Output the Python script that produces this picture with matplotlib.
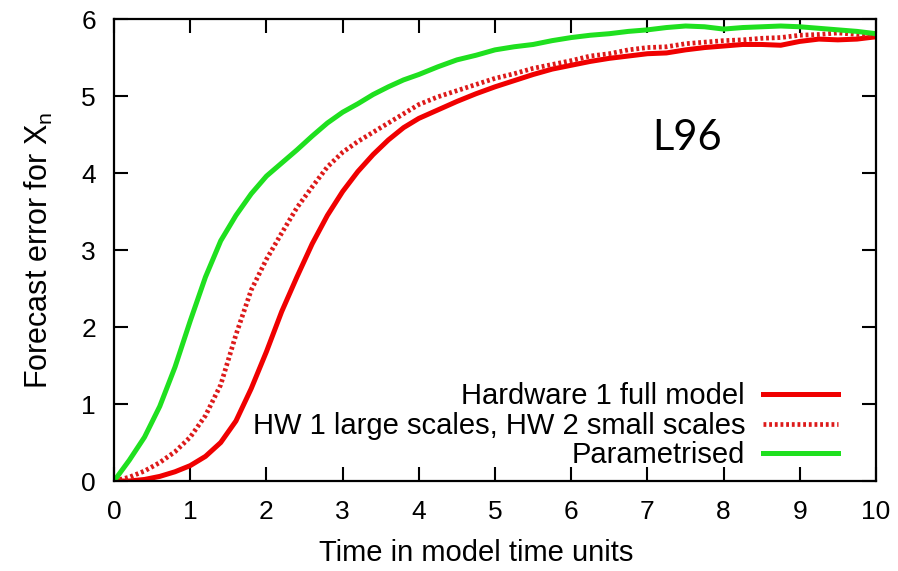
import matplotlib
matplotlib.use('Agg')
import matplotlib.pyplot as plt

# time axis (model time units)
t = [0.0, 0.2, 0.4, 0.6, 0.8, 1.0, 1.2, 1.4, 1.6, 1.8,
     2.0, 2.2, 2.4, 2.6, 2.8, 3.0, 3.2, 3.4, 3.6, 3.8,
     4.0, 4.25, 4.5, 4.75, 5.0, 5.25, 5.5, 5.75, 6.0, 6.25,
     6.5, 6.75, 7.0, 7.25, 7.5, 7.75, 8.0, 8.25, 8.5, 8.75,
     9.0, 9.25, 9.5, 9.75, 10.0]

# forecast error curves
hw1_full = [0.0, 0.0, 0.02, 0.06, 0.12, 0.2, 0.32, 0.5, 0.78, 1.2,
            1.68, 2.2, 2.65, 3.08, 3.45, 3.76, 4.02, 4.24, 4.43, 4.59,
            4.71, 4.82, 4.93, 5.03, 5.12, 5.2, 5.28, 5.35, 5.4, 5.45,
            5.49, 5.52, 5.55, 5.56, 5.6, 5.63, 5.65, 5.67, 5.67, 5.66,
            5.71, 5.74, 5.73, 5.74, 5.77]
hw1_large_hw2_small = [0.0, 0.05, 0.13, 0.24, 0.38, 0.57, 0.85, 1.25, 1.9, 2.48,
                       2.88, 3.22, 3.55, 3.82, 4.08, 4.27, 4.41, 4.53, 4.65, 4.77,
                       4.89, 4.99, 5.07, 5.15, 5.23, 5.29, 5.36, 5.41, 5.46, 5.52,
                       5.55, 5.6, 5.63, 5.64, 5.68, 5.7, 5.72, 5.73, 5.75, 5.76,
                       5.79, 5.8, 5.82, 5.8, 5.8]
parametrised = [0.0, 0.27, 0.57, 0.97, 1.48, 2.08, 2.65, 3.12, 3.45, 3.73,
                3.96, 4.13, 4.3, 4.48, 4.65, 4.79, 4.9, 5.02, 5.12, 5.21,
                5.28, 5.38, 5.47, 5.53, 5.6, 5.64, 5.67, 5.72, 5.76, 5.79,
                5.81, 5.84, 5.86, 5.89, 5.91, 5.9, 5.87, 5.89, 5.9, 5.91,
                5.9, 5.88, 5.86, 5.84, 5.81]

xticks = list(range(0, 11))
yticks = list(range(0, 7))

plt.rcParams['font.family'] = ['Liberation Sans', 'DejaVu Sans']

fig = plt.figure(figsize=(8.98, 5.71), dpi=100)
ax = fig.add_axes([0.127, 0.1576, 0.8485, 0.809])

ax.plot(t, hw1_full, '-', color='#f00000', lw=3.6, label='Hardware 1 full model')
ax.plot(t, hw1_large_hw2_small, color='#dd1a1a', lw=3.4, dashes=(0.6, 0.6),
        label='HW 1 large scales, HW 2 small scales')
ax.plot(t, parametrised, '-', color='#1fe01f', lw=3.6, label='Parametrised')

ax.set_xlim(0, 10)
ax.set_ylim(0, 6)
ax.set_xticks(xticks)
ax.set_yticks(yticks)
ax.tick_params(direction='in', length=10, width=1.5, top=True, right=True,
               labelsize=19)
ax.tick_params(axis='x', pad=14)
ax.tick_params(axis='y', pad=13)
for s in ax.spines.values():
    s.set_linewidth(1.6)

ax.set_xlabel('Time in model time units', fontsize=21, labelpad=11)
ax.xaxis.set_label_coords(0.475, -0.125)
ax.set_ylabel('Forecast error for X$_\\mathregular{n}$', fontsize=22, labelpad=19)

ax.text(7.52, 4.46, 'L96', fontsize=30, family='Lato', ha='center', va='center')

ax.legend(loc='lower right', bbox_to_anchor=(0.966, 0.0), frameon=False,
          markerfirst=False, fontsize=21, handlelength=2.6, labelspacing=0.05,
          handletextpad=0.6, borderaxespad=0.0)

fig.savefig('out.png', dpi=100)
